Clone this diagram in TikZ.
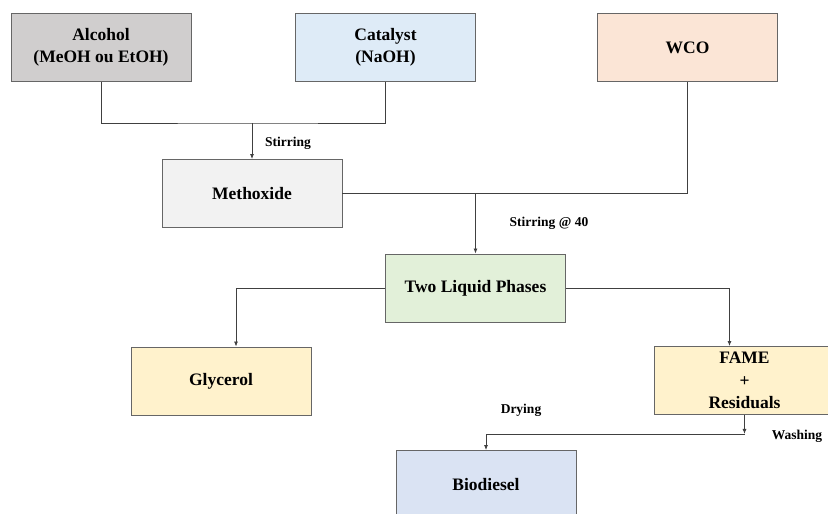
\documentclass[tikz,border=0pt]{standalone}
\usepackage{fontspec}
\setmainfont{Liberation Serif}
\usetikzlibrary{arrows.meta}

\definecolor{alcoholgray}{HTML}{D0CECE}
\definecolor{catalystblue}{HTML}{DEEBF7}
\definecolor{wcopeach}{HTML}{FBE5D6}
\definecolor{methoxidegray}{HTML}{F2F2F2}
\definecolor{phasegreen}{HTML}{E2F0D9}
\definecolor{productyellow}{HTML}{FFF2CC}
\definecolor{biodieselblue}{HTML}{DAE3F3}
\definecolor{edgegray}{HTML}{666666}
\definecolor{linegray}{HTML}{404040}

\tikzset{
  stage/.style={draw=edgegray, line width=0.9pt, minimum width=180pt, minimum height=68pt,
    inner sep=0pt, align=center, font=\fontsize{17.5}{22.5}\selectfont\bfseries},
  flow/.style={draw=linegray, line width=0.8pt},
  tip/.style={flow, -{Latex[length=5pt,width=4pt]}},
  step label/.style={font=\fontsize{13.5}{16}\selectfont\bfseries}
}

\begin{document}
\begin{tikzpicture}[x=1pt, y=-1pt]

  \useasboundingbox[fill=white] (0,0) rectangle (828,514);

  \node[stage, fill=alcoholgray] (alcohol) at (101,47.5) {Alcohol\\(MeOH ou EtOH)};
  \node[stage, fill=catalystblue] (catalyst) at (385.5,47.5) {Catalyst\\(NaOH)};
  \node[stage, fill=wcopeach] (wco) at (687.5,47.5) {WCO};

  \node[stage, fill=methoxidegray] (methoxide) at (252,193.5) {Methoxide};
  \node[stage, fill=phasegreen] (phases) at (475.5,288) {Two Liquid Phases};

  \node[stage, fill=productyellow] (glycerol) at (221,381) {Glycerol};
  \node[stage, fill=productyellow] (fame) at (744.5,380.5) {FAME\\+\\Residuals};
  \node[stage, fill=biodieselblue] (biodiesel) at (486,484.5) {Biodiesel};

  \coordinate (mix) at (252,123);
  \coordinate (merge) at (475.5,193.5);

  \draw[flow] (alcohol.south) |- (mix) -| (catalyst.south);
  \draw[tip] (mix) -- (methoxide.north);
  \draw[flow] (methoxide.east) -| (wco.south);
  \draw[tip] (merge) -- (phases.north);

  \draw[tip] (phases.west) -| ([xshift=15pt]glycerol.north);
  \draw[tip] (phases.east) -| ([xshift=-15pt]fame.north);

  \draw[tip] (fame.south) -- ++(0,19) coordinate (wash);
  \draw[tip] (wash) -| (biodiesel.north);

  \node[step label] (stir1) at (288,143) {Stirring};
  \node[step label] (stir2) at (549,223) {Stirring @ 40};
  \node[step label] (dry) at (521,410) {Drying};
  \node[step label] (washing) at (797,436) {Washing};

\end{tikzpicture}
\end{document}
